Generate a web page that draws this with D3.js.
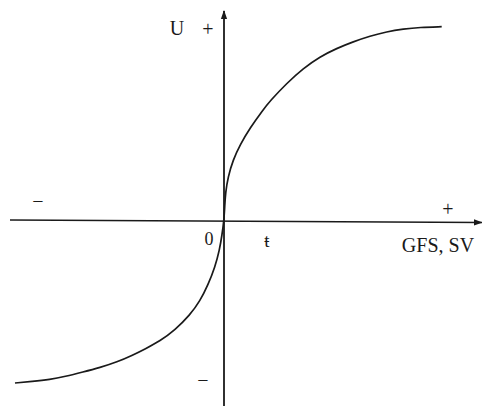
<!DOCTYPE html>
<html><head><meta charset="utf-8">
<script src="https://cdn.jsdelivr.net/npm/d3@7"></script>
<style>html,body{margin:0;padding:0;background:#fff;}svg{display:block;}</style>
</head><body>
<script>
// Curve values (GFS/SV on x, utility U on y), arbitrary units
const curveX = [-20.9,-19.2,-17.4,-15.9,-14.1,-12.4,-10.7,-9.1,-7.9,-6.4,-4.9,-3.4,-2.4,-1.6,-0.9,-0.45,-0.2,
                0,0.08,0.15,0.4,0.9,1.6,2.6,3.9,4.6,6.27,7.93,9.6,11.27,12.93,14.6,16.27,17.93,19.6,21.77];
const curveY = [-16.3,-16.15,-15.95,-15.65,-15.2,-14.75,-14.2,-13.5,-12.9,-12.1,-11.0,-9.5,-8.1,-6.5,-4.7,-3.0,-1.5,
                0,1.5,2.7,4.3,6.0,7.5,9.2,11.0,11.9,13.67,15.17,16.33,17.17,17.83,18.4,18.83,19.1,19.27,19.33];
const xLabel = "GFS, SV";
const yLabel = "U";
const originLabel = "0";
const signLabels = ["+", "−", "+", "−"];

const W = 482, H = 406;
const svg = d3.select("body").append("svg").attr("width", W).attr("height", H);
const x = d3.scaleLinear().domain([-21.4, 25.6]).range([10, 480]);
const y = d3.scaleLinear().domain([-18.6, 21]).range([406, 10]);
const ink = "#1a1a1a";
const font = "'Liberation Serif', 'DejaVu Serif', serif";

const defs = svg.append("defs");
defs.append("marker").attr("id","arr").attr("viewBox","0 0 10 10").attr("refX",9).attr("refY",5)
  .attr("markerWidth",9).attr("markerHeight",9).attr("markerUnits","userSpaceOnUse").attr("orient","auto")
  .append("path").attr("d","M0,1.5 L10,5 L0,8.5 Z").attr("fill",ink);

// x axis
svg.append("line").attr("x1", x(-21.4)).attr("y1", y(0)).attr("x2", x(25.8)).attr("y2", y(-0.25))
  .attr("stroke", ink).attr("stroke-width", 1.6).attr("marker-end","url(#arr)");
// y axis
svg.append("line").attr("x1", x(0)).attr("y1", y(-18.6)).attr("x2", x(0)).attr("y2", y(20.9))
  .attr("stroke", ink).attr("stroke-width", 1.8).attr("marker-end","url(#arr)");

const data = curveX.map((v,i)=>[v, curveY[i]]);
svg.append("path").datum(data)
  .attr("d", d3.line().x(d=>x(d[0])).y(d=>y(d[1])).curve(d3.curveBasis))
  .attr("fill","none").attr("stroke", ink).attr("stroke-width", 1.7);

const txt = (s, px, py, size, anchor) => svg.append("text").text(s).attr("x", px).attr("y", py)
  .attr("font-family", font).attr("font-size", size).attr("fill", ink).attr("text-anchor", anchor || "middle");

txt(yLabel, 177, 35, 20);
txt(signLabels[0], 208, 36, 20);
txt(signLabels[1], 38, 208, 20);
txt(signLabels[2], 448, 216, 20);
txt(signLabels[3], 203, 387, 20);
txt(originLabel, 209, 245, 18);
txt(xLabel, 438, 252, 20);
txt("ŧ", 267, 247, 19);
</script>
</body></html>
